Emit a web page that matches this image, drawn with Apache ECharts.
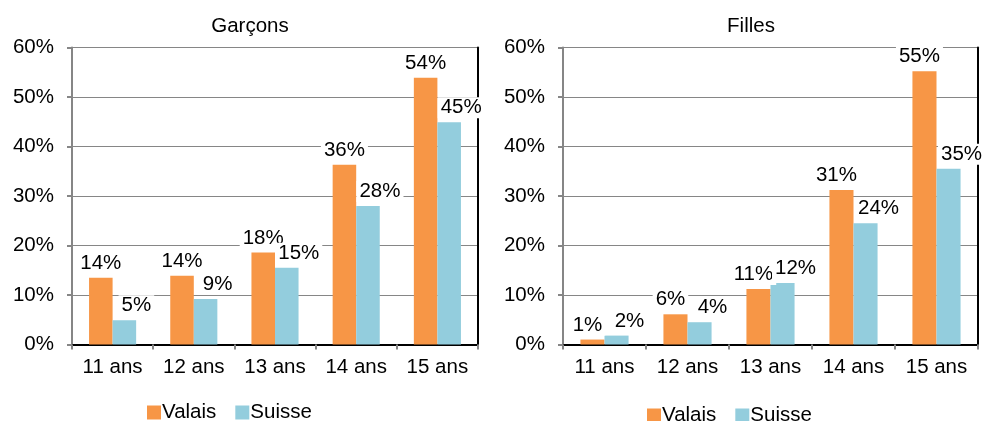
<!DOCTYPE html>
<html>
<head>
<meta charset="utf-8">
<script src="https://cdn.jsdelivr.net/npm/echarts@6/dist/echarts.min.js"></script>
<style>html,body{margin:0;padding:0;background:#fff}#c{width:986px;height:421px}</style>
</head>
<body>
<div id="c"></div>
<script>
const categories = ['11 ans', '12 ans', '13 ans', '14 ans', '15 ans'];
const panelTitles = ['Garçons', 'Filles'];
const seriesNames = ['Valais', 'Suisse'];
const yTicks = [0, 10, 20, 30, 40, 50, 60];

const garconsValais = [13.5, 13.9, 18.6, 36.3, 53.9];
const garconsSuisse = [4.9, 9.2, 15.5, 28.0, 44.9];
const fillesValais = [1.0, 6.1, 11.2, 31.2, 55.2];
const fillesSuisse = [1.8, 4.5, 12.4, 24.5, 35.5];

const garconsValaisLabels = ['14%', '14%', '18%', '36%', '54%'];
const garconsSuisseLabels = ['5%', '9%', '15%', '28%', '45%'];
const fillesValaisLabels = ['1%', '6%', '11%', '31%', '55%'];
const fillesSuisseLabels = ['2%', '4%', '12%', '24%', '35%'];

const colors = ['#F79646', '#93CDDD'];
const FONT = 'Liberation Sans, Arial, sans-serif';
const FS = 20.5;

const chart = echarts.init(document.getElementById('c'), null, {renderer: 'canvas'});

const grids = [
  {left: 72, right: 508, top: 47.5, bottom: 76.5},
  {left: 563, right: 8, top: 47.5, bottom: 76.5}
];

const xAxes = [], yAxes = [];
grids.forEach((g, i) => {
  xAxes.push({
    type: 'category', gridIndex: i, data: categories, position: 'bottom',
    axisLine: {lineStyle: {color: '#868686', width: 2}},
    axisTick: {show: true, length: 5, lineStyle: {color: '#868686', width: 2}},
    axisLabel: {color: '#000', fontSize: FS, fontFamily: FONT, margin: 12, interval: 0, hideOverlap: false}
  });
  xAxes.push({
    type: 'category', gridIndex: i, data: categories, position: 'top',
    axisLine: {lineStyle: {color: '#000', width: 2}},
    axisTick: {show: false}, axisLabel: {show: false}
  });
  yAxes.push({
    type: 'value', gridIndex: i, min: yTicks[0], max: yTicks[yTicks.length - 1], interval: 10,
    position: 'left',
    axisLine: {show: true, lineStyle: {color: '#868686', width: 2}},
    axisTick: {show: true, length: 5, lineStyle: {color: '#868686', width: 2}},
    splitLine: {show: true, lineStyle: {color: '#868686', width: 1}},
    axisLabel: {color: '#000', fontSize: FS, fontFamily: FONT, margin: 18, formatter: v => v + '%'}
  });
  yAxes.push({
    type: 'value', gridIndex: i, min: yTicks[0], max: yTicks[yTicks.length - 1], interval: 10,
    position: 'right',
    axisLine: {show: true, lineStyle: {color: '#000', width: 2}},
    axisTick: {show: false}, splitLine: {show: false}, axisLabel: {show: false}
  });
});

function barSeries(name, gi, values, labels, color, dx) {
  return {
    type: 'bar', name: name,
    xAxisIndex: gi * 2, yAxisIndex: gi * 2,
    data: values,
    itemStyle: {color: color},
    barGap: '0%', barCategoryGap: '42%',
    label: {
      show: true, position: 'top', distance: 4, offset: [dx, 0],
      color: '#000', fontSize: FS, fontFamily: FONT,
      backgroundColor: '#fff', padding: [0, 3],
      formatter: p => labels[p.dataIndex]
    }
  };
}

const option = {
  animation: false,
  backgroundColor: '#fff',
  textStyle: {fontFamily: FONT},
  title: [
    {text: panelTitles[0], left: 245, top: 11, textAlign: 'center',
     textStyle: {fontSize: FS, fontWeight: 'normal', color: '#000', fontFamily: FONT}},
    {text: panelTitles[1], left: 746, top: 11, textAlign: 'center',
     textStyle: {fontSize: FS, fontWeight: 'normal', color: '#000', fontFamily: FONT}}
  ],
  legend: [
    {left: 147, top: 402, itemWidth: 14, itemHeight: 14, itemGap: 19, icon: 'rect', padding: 0,
     data: seriesNames, textStyle: {fontSize: FS, color: '#000', fontFamily: FONT, padding: [0, 0, 0, -4]}},
    {left: 647, top: 405, itemWidth: 14, itemHeight: 14, itemGap: 19, icon: 'rect', padding: 0,
     data: seriesNames, textStyle: {fontSize: FS, color: '#000', fontFamily: FONT, padding: [0, 0, 0, -4]}}
  ],
  grid: grids,
  xAxis: xAxes,
  yAxis: yAxes,
  series: [
    barSeries(seriesNames[0], 0, garconsValais, garconsValaisLabels, colors[0], 0),
    barSeries(seriesNames[1], 0, garconsSuisse, garconsSuisseLabels, colors[1], 12),
    barSeries(seriesNames[0], 1, fillesValais, fillesValaisLabels, colors[0], -5),
    barSeries(seriesNames[1], 1, fillesSuisse, fillesSuisseLabels, colors[1], 13)
  ]
};
chart.setOption(option);
</script>
</body>
</html>
